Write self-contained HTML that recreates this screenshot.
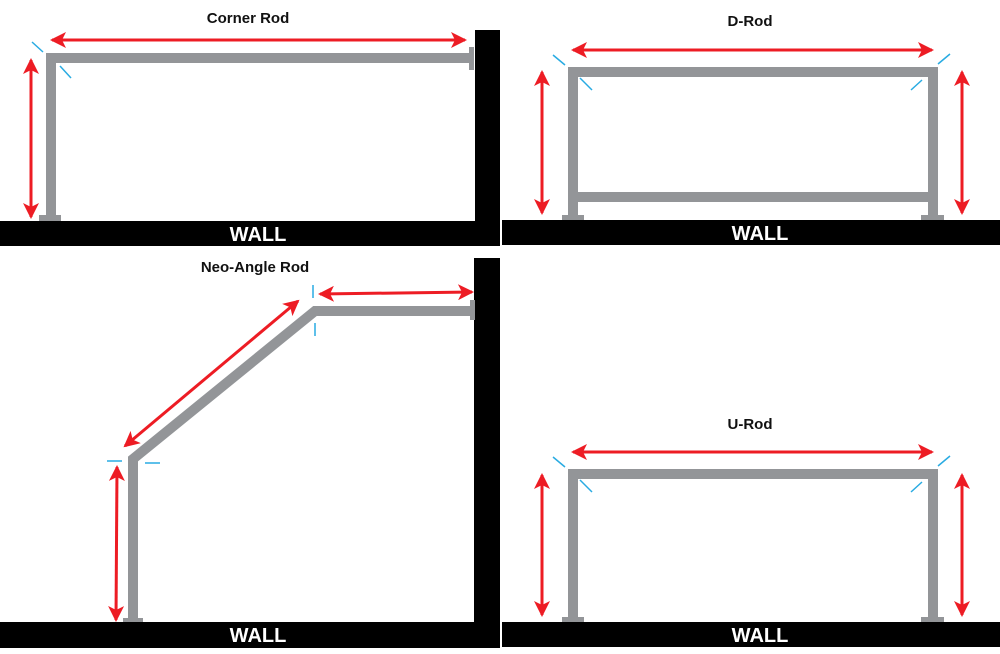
<!DOCTYPE html>
<html><head><style>
html,body{margin:0;padding:0;background:#fff;}
svg{display:block;}
text{font-family:"Liberation Sans",sans-serif;font-weight:bold;}
</style></head><body>
<svg width="1000" height="654" viewBox="0 0 1000 654" xmlns="http://www.w3.org/2000/svg">
<defs>
<marker id="a" viewBox="0 0 16 16" refX="14" refY="8" markerWidth="16" markerHeight="16" markerUnits="userSpaceOnUse" orient="auto-start-reverse">
<path d="M0,0 L16,8 L0,16 L4,8 Z" fill="#ed1c24"/>
</marker>
</defs>
<g fill="#000">
<rect x="0" y="221" width="500" height="25"/>
<rect x="475" y="30" width="25" height="216"/>
<rect x="502" y="220" width="498" height="25"/>
<rect x="0" y="622" width="500" height="26"/>
<rect x="474" y="258" width="26" height="390"/>
<rect x="502" y="622" width="498" height="25"/>
</g>
<g fill="#fff" font-size="20" text-anchor="middle">
<text x="258" y="241">WALL</text>
<text x="760" y="240">WALL</text>
<text x="258" y="642">WALL</text>
<text x="760" y="642">WALL</text>
</g>
<g fill="#111" font-size="15" text-anchor="middle">
<text x="248" y="23">Corner Rod</text>
<text x="750" y="26">D-Rod</text>
<text x="255" y="272">Neo-Angle Rod</text>
<text x="750" y="429">U-Rod</text>
</g>
<g fill="none" stroke="#939598" stroke-width="10">
<polyline points="51,218 51,58 470,58"/>
<polyline points="573,218 573,72 933,72 933,218"/>
<line x1="573" y1="197" x2="933" y2="197"/>
<polyline points="573,619 573,474 933,474 933,619"/>
<polyline points="133,619 133,459 315,311 470,311"/>
</g>
<g fill="#939598">
<rect x="469" y="47" width="5" height="23"/>
<rect x="39" y="215" width="22" height="6"/>
<rect x="562" y="215" width="22" height="5"/>
<rect x="921" y="215" width="23" height="5"/>
<rect x="562" y="617" width="22" height="5"/>
<rect x="921" y="617" width="23" height="5"/>
<rect x="470" y="300" width="5" height="20"/>
<rect x="123" y="618" width="20" height="4"/>
</g>
<g stroke="#ed1c24" stroke-width="3" marker-start="url(#a)" marker-end="url(#a)">
<line x1="52" y1="40" x2="465" y2="40"/>
<line x1="31" y1="60" x2="31" y2="217"/>
<line x1="573" y1="50" x2="932" y2="50"/>
<line x1="542" y1="72" x2="542" y2="213"/>
<line x1="962" y1="72" x2="962" y2="213"/>
<line x1="573" y1="452" x2="932" y2="452"/>
<line x1="542" y1="475" x2="542" y2="615"/>
<line x1="962" y1="475" x2="962" y2="615"/>
<line x1="320" y1="294" x2="472" y2="292"/>
<line x1="125" y1="446" x2="298" y2="301"/>
<line x1="117" y1="467" x2="116" y2="620"/>
</g>
<g stroke="#29abe2" stroke-width="1.5">
<line x1="32" y1="42" x2="43" y2="52"/>
<line x1="60" y1="66" x2="71" y2="78"/>
<line x1="553" y1="55" x2="565" y2="65"/>
<line x1="580" y1="78" x2="592" y2="90"/>
<line x1="938" y1="64" x2="950" y2="54"/>
<line x1="911" y1="90" x2="922" y2="80"/>
<line x1="553" y1="457" x2="565" y2="467"/>
<line x1="580" y1="480" x2="592" y2="492"/>
<line x1="938" y1="466" x2="950" y2="456"/>
<line x1="911" y1="492" x2="922" y2="482"/>
<line x1="313" y1="285" x2="313" y2="298"/>
<line x1="315" y1="323" x2="315" y2="336"/>
<line x1="107" y1="461" x2="122" y2="461"/>
<line x1="145" y1="463" x2="160" y2="463"/>
</g>
</svg>
</body></html>
